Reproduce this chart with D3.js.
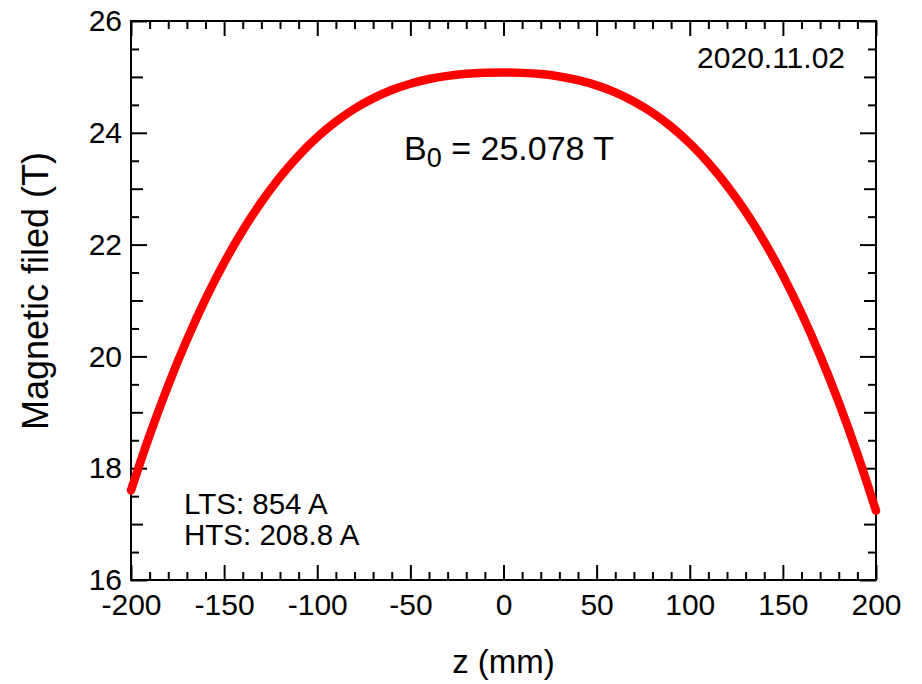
<!DOCTYPE html>
<html><head><meta charset="utf-8">
<script src="https://cdn.jsdelivr.net/npm/d3@7"></script>
<style>
html,body{margin:0;padding:0;background:#fff;}
text{font-family:"Liberation Sans",Arial,Helvetica,sans-serif;fill:#000;}
</style></head>
<body>
<svg id="chart" width="922" height="684"></svg>
<script>
const zValues = [-200,-190,-180,-170,-160,-150,-140,-130,-120,-110,-100,-90,-80,-70,-60,-50,-40,-30,-20,-10,0,10,20,30,40,50,60,70,80,90,100,110,120,130,140,150,160,170,180,190,200];
const bValues = [17.602,18.589,19.485,20.295,21.024,21.675,22.253,22.763,23.208,23.593,23.922,24.199,24.430,24.616,24.765,24.878,24.962,25.019,25.055,25.073,25.078,25.072,25.050,25.008,24.942,24.849,24.723,24.560,24.357,24.110,23.813,23.463,23.056,22.588,22.054,21.450,20.772,20.016,19.178,18.254,17.238];
const xTickLabels = [-200,-150,-100,-50,0,50,100,150,200];
const yTickLabels = [16,18,20,22,24,26];
const xTitle = "z (mm)";
const yTitle = "Magnetic filed (T)";
const dateLabel = "2020.11.02";
const b0Value = "25.078";
const ltsLabel = "LTS: 854 A";
const htsLabel = "HTS: 208.8 A";

const svg = d3.select("#chart");
const L=131, R=876, T=21, B=580;
const x = d3.scaleLinear().domain([-200,200]).range([L,R]);
const y = d3.scaleLinear().domain([16,26]).range([B,T]);

const xMinor = d3.range(-200,201,10).filter(v=>v%50!==0);
const yMinor = d3.range(16,26.01,0.5).filter(v=>v%1!==0);
const yMid = d3.range(16,26.01,1).filter(v=>v%2!==0);
const fmt = d => String(d);

function styleAxis(g){
  g.selectAll("path").remove();
  g.selectAll("line").attr("stroke","#000").attr("stroke-width",2);
  g.selectAll("text").style("font-size","30px").attr("fill","#000");
}
function addAxis(axisFn, pos, vals, size, labels, pad){
  const a = axisFn.tickValues(vals).tickSizeInner(-size).tickSizeOuter(0);
  if(labels){ a.tickFormat(fmt).tickPadding(pad); } else { a.tickFormat(""); }
  svg.append("g").attr("transform",pos).call(a).call(styleAxis);
}
// bottom
addAxis(d3.axisBottom(x), `translate(0,${B})`, xTickLabels, 15, true, 14);
addAxis(d3.axisBottom(x), `translate(0,${B})`, xMinor, 8, false);
// top
addAxis(d3.axisTop(x), `translate(0,${T})`, xTickLabels, 15, false);
addAxis(d3.axisTop(x), `translate(0,${T})`, xMinor, 8, false);
// left
addAxis(d3.axisLeft(y), `translate(${L},0)`, yTickLabels, 16, true, 9);
addAxis(d3.axisLeft(y), `translate(${L},0)`, yMid, 12, false);
addAxis(d3.axisLeft(y), `translate(${L},0)`, yMinor, 8, false);
// right
addAxis(d3.axisRight(y), `translate(${R},0)`, yTickLabels, 16, false);
addAxis(d3.axisRight(y), `translate(${R},0)`, yMid, 12, false);
addAxis(d3.axisRight(y), `translate(${R},0)`, yMinor, 8, false);
// frame
svg.append("rect").attr("x",L).attr("y",T).attr("width",R-L).attr("height",B-T)
  .attr("fill","none").attr("stroke","#000").attr("stroke-width",2);

// curve
const data = zValues.map((z,i)=>({z, b:bValues[i]}));
svg.append("path").datum(data)
  .attr("fill","none").attr("stroke","#ff0000").attr("stroke-width",8.5)
  .attr("stroke-linecap","round").attr("stroke-linejoin","round")
  .attr("d", d3.line().x(d=>x(d.z)).y(d=>y(d.b)).curve(d3.curveCatmullRom));

// titles
svg.append("text").attr("x",(L+R)/2).attr("y",673).attr("text-anchor","middle")
  .style("font-size","33px").text(xTitle);
svg.append("text").attr("transform",`translate(48,291) rotate(-90)`).attr("text-anchor","middle")
  .style("font-size","36px").text(yTitle);

// annotations
svg.append("text").attr("x",845).attr("y",68).attr("text-anchor","end").style("font-size","30px").text(dateLabel);
const b0 = svg.append("text").attr("x",404).attr("y",160).style("font-size","34px");
b0.append("tspan").text("B");
b0.append("tspan").attr("dy",7).style("font-size","27px").text("0");
b0.append("tspan").attr("dy",-7).text(" = " + b0Value + " T");
svg.append("text").attr("x",184).attr("y",514).style("font-size","29.5px").text(ltsLabel);
svg.append("text").attr("x",184).attr("y",545).style("font-size","29.5px").text(htsLabel);
</script>
</body></html>
